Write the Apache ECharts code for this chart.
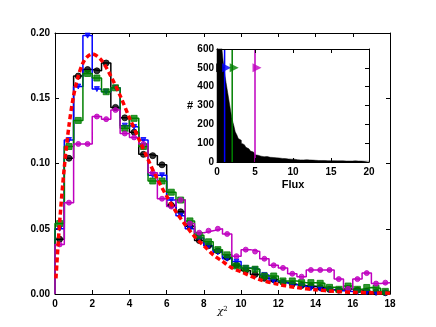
<!DOCTYPE html>
<html>
<head>
<meta charset="utf-8">
<script src="https://cdn.jsdelivr.net/npm/echarts@6/dist/echarts.min.js"></script>
<style>
  html, body { margin: 0; padding: 0; background: #fff; }
  #chart { width: 436px; height: 327px; }
</style>
</head>
<body>
<div id="chart"></div>
<script>
// chi^2 histograms, bins of 0.5 from 0 to 18
var binWidth = 0.5;
var blackVals = [0.042, 0.104, 0.167, 0.172, 0.171, 0.177, 0.143, 0.135, 0.124, 0.107, 0.106, 0.099,
  0.068, 0.063, 0.052, 0.041, 0.037, 0.033, 0.028, 0.022, 0.018, 0.015, 0.012, 0.011,
  0.009, 0.0075, 0.0065, 0.006, 0.005, 0.0035, 0.003, 0.004, 0.003, 0.002, 0.0015, 0.001];
var blueVals = [0.050, 0.118, 0.159, 0.198, 0.157, 0.155, 0.158, 0.129, 0.128, 0.118, 0.091, 0.091,
  0.072, 0.060, 0.050, 0.043, 0.037, 0.032, 0.027, 0.025, 0.020, 0.019, 0.0146, 0.010,
  0.0085, 0.007, 0.006, 0.0045, 0.004, 0.003, 0.0025, 0.002, 0.0015, 0.0015, 0.001, 0.0008];
var greenVals = [0.054, 0.113, 0.133, 0.169, 0.1655, 0.155, 0.158, 0.127, 0.1346, 0.113, 0.0866, 0.0866,
  0.078, 0.072, 0.056, 0.045, 0.040, 0.034, 0.030, 0.0215, 0.0197, 0.019, 0.0138, 0.0138,
  0.010, 0.010, 0.0087, 0.0087, 0.0082, 0.0051, 0.0036, 0.0061, 0.0036, 0.005, 0.0044, 0.002];
var purpleVals = [0.038, 0.070, 0.115, 0.115, 0.136, 0.134, 0.141, 0.123, 0.120, 0.115, 0.093, 0.073,
  0.067, 0.072, 0.054, 0.047, 0.0485, 0.050, 0.046, 0.029, 0.034, 0.0325, 0.027, 0.022,
  0.020, 0.0155, 0.0133, 0.0184, 0.0184, 0.0184, 0.0114, 0.004, 0.0114, 0.016, 0.008, 0.0087];

// expected chi^2 curve (red dashed)
var curveX = [0.05, 0.25, 0.5, 0.75, 1, 1.25, 1.5, 1.75, 2, 2.5, 3, 3.5, 4, 4.5, 5, 5.5, 6, 6.5, 7, 7.5,
  8, 8.5, 9, 9.5, 10, 11, 12, 13, 14, 15, 16, 17, 18];
var curveY = [0.012, 0.055, 0.097, 0.129, 0.152, 0.167, 0.177, 0.182, 0.184, 0.179, 0.167, 0.152, 0.135,
  0.119, 0.103, 0.088, 0.075, 0.063, 0.053, 0.044, 0.037, 0.030, 0.025, 0.020, 0.017, 0.011,
  0.0074, 0.0049, 0.0032, 0.0021, 0.0013, 0.0009, 0.0006];

// inset: flux histogram, bins of 0.2 from 0 to 20
var fluxBinWidth = 0.2;
var fluxCounts = [650, 700, 680, 620, 540, 470, 420, 370, 320, 270,
  225, 195, 160, 145, 125, 115, 100, 92, 84, 78,
  70, 62, 58, 53, 45, 38, 36, 33, 31, 30,
  28, 27, 29, 26, 25, 26, 24, 25, 22, 23,
  21, 22, 19, 20, 18, 17, 16, 17, 15, 14,
  15, 13, 12, 13, 11, 12, 11, 10, 12, 10,
  11, 9, 10, 10, 9, 9, 8, 9, 8, 9,
  8, 8, 7, 8, 7, 8, 7, 7, 6, 7,
  6, 7, 6, 6, 5, 6, 5, 6, 5, 5,
  6, 5, 5, 4, 5, 5, 4, 5, 4, 4];
var fluxCuts = [0.2, 1, 2, 5];
var cutColors = ['#000000', '#0000ff', '#008000', '#bf00bf'];

function stepData(vals, w) {
  var d = [[0, 0]];
  vals.forEach(function (v, i) { d.push([i * w, v]); });
  d.push([vals.length * w, vals[vals.length - 1]]);
  return d;
}
function centerData(vals, w) {
  return vals.map(function (v, i) { return [i * w + w / 2, v]; });
}

var bold = { fontFamily: 'Liberation Sans', fontWeight: 'bold', fontSize: 10, color: '#000' };

function valAxis(o) {
  var base = {
    type: 'value',
    splitLine: { show: false },
    axisLine: { show: true, onZero: false, lineStyle: { color: '#000', width: 1 } },
    axisTick: { show: true, inside: true, length: 4, lineStyle: { color: '#000' } },
    axisLabel: Object.assign({ margin: 5 }, bold),
    nameMoveOverlap: false
  };
  return Object.assign(base, o);
}

var stepSeries = [
  { name: 'black', vals: blackVals, color: '#000000', symbol: 'circle', size: 6 },
  { name: 'blue', vals: blueVals, color: '#0000ff', symbol: 'triangle', size: 5, rotate: 180 },
  { name: 'green', vals: greenVals, color: '#008000', symbol: 'rect', size: 6 },
  { name: 'purple', vals: purpleVals, color: '#bf00bf', symbol: 'circle', size: 5 }
];

var series = [];
stepSeries.forEach(function (s) {
  series.push({
    type: 'line', step: 'end', xAxisIndex: 0, yAxisIndex: 0,
    data: stepData(s.vals, binWidth), symbol: 'none',
    lineStyle: { color: s.color, width: 1.5 }, z: 3
  });
  series.push({
    type: 'scatter', xAxisIndex: 0, yAxisIndex: 0,
    data: centerData(s.vals, binWidth), symbol: s.symbol, symbolSize: s.size,
    symbolRotate: s.rotate || 0,
    itemStyle: { color: s.color, borderColor: s.color }, z: 4
  });
});
series.push({
  type: 'line', xAxisIndex: 0, yAxisIndex: 0, smooth: 0.3,
  data: curveX.map(function (x, i) { return [x, curveY[i]]; }),
  symbol: 'none', lineStyle: { color: '#ff0000', width: 3.5, type: [5, 3] }, z: 5
});

// inset
series.push({
  type: 'line', step: 'end', xAxisIndex: 2, yAxisIndex: 2,
  data: stepData(fluxCounts, fluxBinWidth), symbol: 'none',
  lineStyle: { color: '#000', width: 0.5 }, areaStyle: { color: '#000', opacity: 1 }, z: 11
});
fluxCuts.forEach(function (c, i) {
  series.push({
    type: 'line', xAxisIndex: 2, yAxisIndex: 2,
    data: [[c, 0], [c, 600]], symbol: 'none',
    lineStyle: { color: cutColors[i], width: 1.5 }, z: 13
  });
  series.push({
    type: 'scatter', xAxisIndex: 2, yAxisIndex: 2,
    data: [[c, 500]], symbol: 'triangle', symbolSize: 9, symbolRotate: -90,
    symbolOffset: [2, 0],
    itemStyle: { color: cutColors[i] }, z: 14
  });
});

var option = {
  backgroundColor: '#fff',
  animation: false,
  grid: [
    { left: 55, right: 46, top: 33, bottom: 33, outerBoundsMode: 'none' },
    { left: 217, right: 67, top: 49, bottom: 165, outerBoundsMode: 'none',
      show: true, backgroundColor: '#fff', borderWidth: 0, z: 10 }
  ],
  xAxis: [
    valAxis({ gridIndex: 0, min: 0, max: 18, interval: 2,
      name: '{i|χ}{s|2}', nameLocation: 'middle', nameGap: 12,
      nameTextStyle: { rich: {
        i: { fontFamily: 'DejaVu Serif', fontStyle: 'italic', fontSize: 10, color: '#000' },
        s: { fontFamily: 'DejaVu Serif', fontSize: 7, color: '#000', verticalAlign: 'top' }
      } } }),
    valAxis({ gridIndex: 0, min: 0, max: 18, interval: 2, position: 'top', axisLabel: { show: false } }),
    valAxis({ gridIndex: 1, min: 0, max: 20, interval: 5, z: 15,
      name: 'Flux', nameLocation: 'middle', nameGap: 17,
      nameTextStyle: { fontFamily: 'Liberation Sans', fontWeight: 'bold', fontSize: 11, color: '#000' } }),
    valAxis({ gridIndex: 1, min: 0, max: 20, interval: 5, position: 'top', axisLabel: { show: false }, z: 15 })
  ],
  yAxis: [
    valAxis({ gridIndex: 0, min: 0, max: 0.2, interval: 0.05,
      axisLabel: Object.assign({ margin: 5, formatter: function (v) { return v.toFixed(2); } }, bold) }),
    valAxis({ gridIndex: 0, min: 0, max: 0.2, interval: 0.05, position: 'right', axisLabel: { show: false } }),
    valAxis({ gridIndex: 1, min: 0, max: 600, interval: 100, z: 15,
      axisLabel: Object.assign({ margin: 3 }, bold),
      name: '#', nameLocation: 'middle', nameGap: 24, nameRotate: 0,
      nameTextStyle: { fontFamily: 'Liberation Sans', fontWeight: 'bold', fontSize: 11, color: '#000' } }),
    valAxis({ gridIndex: 1, min: 0, max: 600, interval: 100, position: 'right', axisLabel: { show: false }, z: 15 })
  ],
  series: series
};

var myChart = echarts.init(document.getElementById('chart'));
myChart.setOption(option);
</script>
</body>
</html>
